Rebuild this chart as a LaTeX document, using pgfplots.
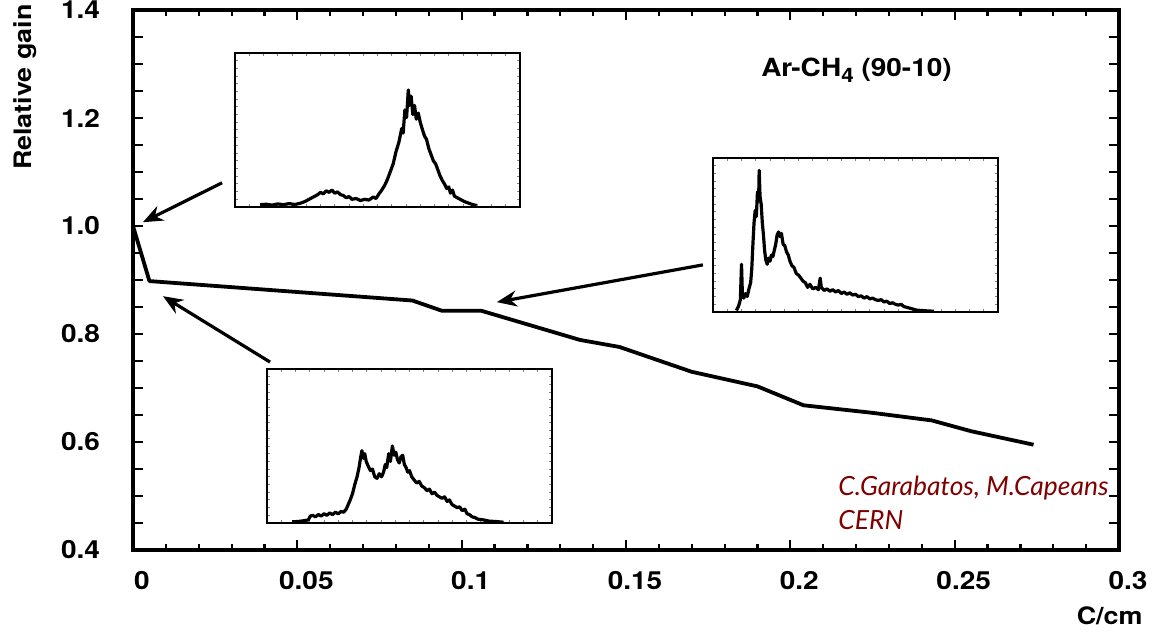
\documentclass[border=0pt]{standalone}
\usepackage{fontspec}
\setmainfont{TeX Gyre Heros}
\newfontfamily\widefont[FakeStretch=1.12]{TeX Gyre Heros}
\newfontfamily\creditfont{Lato}
\usepackage{pgfplots}
\pgfplotsset{compat=1.18}
\usetikzlibrary{arrows.meta}
\definecolor{creditred}{RGB}{128,0,0}

\pgfplotsset{
  spectrum/.style={
    scale only axis, width=142.5pt, height=77pt,
    xmin=0, xmax=100, ymin=0, ymax=100,
    axis line style={line width=0.8pt},
    xtick={0,5,...,100}, ytick={0,5,...,100},
    xticklabels={}, yticklabels={},
    major tick length=1.6pt, tick style={line width=0.5pt},
    axis background/.style={fill=white},
  },
  spec/.style={black, line width=1.6pt, line join=round},
}

\begin{document}
\begin{tikzpicture}
\path[use as bounding box] (-66.5pt,-41pt) rectangle (510.5pt,275pt);

% relative gain versus C along the wire
\begin{axis}[
  at={(0,0)}, anchor=south west,
  scale only axis, width=493pt, height=270pt,
  xmin=0, xmax=0.3, ymin=0.4, ymax=1.4,
  scaled x ticks=false,
  xtick={0,0.05,...,0.3}, xticklabels={0,0.05,0.1,0.15,0.2,0.25,0.3},
  ytick={0.4,0.6,...,1.4}, yticklabels={0.4,0.6,0.8,1.0,1.2,1.4},
  minor x tick num=4, minor y tick num=3,
  axis line style={line width=1.7pt},
  tick style={line width=1.1pt, black},
  major tick length=5pt, minor tick length=2.8pt,
  minor y tick style={/pgfplots/minor tick length=5pt},
  tick label style={font=\widefont\bfseries\fontsize{12.5}{14}\selectfont},
  /pgf/number format/assume math mode=true,
  xticklabel style={yshift=-7pt, xshift=4.5pt},
  yticklabel style={xshift=-13pt},
  xlabel={C/cm}, ylabel={Relative gain},
  label style={font=\widefont\bfseries\fontsize{12}{14}\selectfont},
  xlabel style={at={(axis description cs:1.031,-0.122)}, anchor=east},
  ylabel style={at={(axis description cs:-0.1095,0.857)}, anchor=center},
  clip=false,
]
\addplot[black, line width=1.9pt, line join=round] coordinates {
  (0,1.0) (0.005,0.898) (0.085,0.862) (0.094,0.843) (0.106,0.843)
  (0.136,0.789) (0.148,0.776) (0.17,0.73) (0.19,0.703) (0.204,0.668)
  (0.225,0.654) (0.243,0.64) (0.255,0.62) (0.274,0.595)
};
\node[anchor=west, font=\widefont\bfseries\fontsize{12.5}{14}\selectfont]
  at (axis cs:0.189,1.289) {Ar-CH\raisebox{-3pt}{\fontsize{10}{12}\selectfont 4} (90-10)};
\node[anchor=north west, align=left, text=creditred, inner sep=0pt,
      font=\creditfont\itshape\fontsize{13.2}{17}\selectfont]
  at (axis cs:0.2145,0.537) {C.Garabatos, M.Capeans\\CERN};
\draw[line width=1.6pt, -{Stealth[length=10pt,width=8pt]}]
  (axis cs:0.0271,1.080) -- (axis cs:0.003,1.007);
\draw[line width=1.6pt, -{Stealth[length=10pt,width=8pt]}]
  (axis cs:0.0417,0.748) -- (axis cs:0.0091,0.870);
\draw[line width=1.6pt, -{Stealth[length=10pt,width=8pt]}]
  (axis cs:0.1734,0.928) -- (axis cs:0.1107,0.859);
\end{axis}

% pulse-height spectrum near the start
\begin{axis}[spectrum, at={(51pt,171.5pt)}, anchor=south west]
\addplot[spec] coordinates {
(8.8,1.5)(11,1.8)(13,1.2)(15,2)(17,1.5)(19,2.2)(21,1.6)(23,2.5)(24.5,3.5)(26,5)
(27.5,6.5)(29,8)(30,9.5)(31,8.5)(32,10.5)(33,9.5)(34,11)(35,9)(36,9.8)(37,8)
(38,7.5)(39,6)(40,6.8)(41,5)(42.5,5.5)(44,4.2)(45.5,5)(47,4.5)(48.5,6.5)(49.5,5.5)
(50.5,8.5)(51.5,11)(52.5,14)(53.5,18)(54.5,23)(55.5,28)(56.5,36)(57.5,42)(58.5,51)
(59,48)(59.6,63)(60.2,58)(60.8,76)(61.3,66)(61.8,72)(62.4,60)(63,66)(63.6,57)
(64.3,61)(65,55)(65.8,50)(66.5,46)(67.2,44)(68,38)(68.8,34)(69.6,30)(70.4,28)
(71.2,24)(72,20)(72.8,17)(73.5,15)(74.3,12)(75,13)(75.6,9)(76.3,11)(77,7)(78,6)
(79,5)(80.5,3.5)(82,2.5)(83.5,1.5)(84.8,1)
};
\end{axis}

% spectrum around C = 0.1
\begin{axis}[spectrum, at={(290pt,119pt)}, anchor=south west]
\addplot[spec] coordinates {
(8.2,1)(9,4)(9.6,8)(10,31)(10.3,12)(10.8,9)(11.4,12)(12,10)(12.6,15)(13.2,19)
(13.6,28)(14,44)(14.4,58)(14.8,66)(15.2,62)(15.6,78)(16,72)(16.2,92)(16.5,75)
(16.9,70)(17.3,58)(17.7,50)(18.1,40)(18.5,34)(19,31)(19.5,35)(20,33)(20.5,37)
(21,36)(21.5,40)(22,44)(22.5,50)(23,52)(23.5,49)(24,51)(24.6,44)(25.2,43)(25.8,39)
(26.4,37)(27,33)(27.7,30)(28.4,29)(29.2,25)(30,24)(30.8,22)(31.6,20)(32.4,19)
(33.2,16)(34,18)(35,15)(36,16)(37,14.5)(37.6,22)(38,16)(39,14)(40,15)(41,13.5)
(42,14.5)(43,13)(44,14)(45,12)(46,13)(47,11.5)(48,12.5)(49,11)(50,11.5)(51,10)
(52,10.5)(53,9)(54,10)(55,8.5)(56,9)(57,8)(58,7.5)(59,8)(60,6.5)(61,7)(62,5.5)
(63,6)(64,5)(65,4.5)(66,5)(67,3.5)(68,3)(69,2.5)(70,2)(71.5,1.2)(73,1)(75,0.7)
(77.6,0.5)
};
\end{axis}

% spectrum just after the first drop
\begin{axis}[spectrum, at={(67pt,13.5pt)}, anchor=south west]
\addplot[spec] coordinates {
(8.8,0.8)(11,1)(13,1.5)(14.5,2)(15.2,4.5)(16,5)(17,4)(18,5.5)(19,4.5)(20,6)
(21,5)(22,6.5)(23,5.5)(24,7)(25,6)(26,7.5)(26.9,7)(27.8,9)(28.5,12)(29.2,15)
(30,19)(30.8,25)(31.6,30)(32.3,36)(32.8,42)(33.3,47)(33.8,42)(34.3,45)(34.8,40)
(35.5,37)(36.3,34)(37,35)(37.8,30)(38.6,29)(39.4,32)(40.2,30)(40.9,33)(41.5,38)
(42,36)(42.7,45)(43.3,40)(44,50)(44.6,44)(45.2,46)(45.8,41)(46.4,39)(47,43)
(47.6,44)(48.2,38)(48.8,36)(49.4,33)(50,34)(50.8,30)(51.6,28)(52.5,26)(53.4,27)
(54.3,24)(55.2,23)(56.1,21)(57,22)(57.9,19)(58.8,20)(59.6,18)(60.5,17)(61.4,16)
(62.3,17)(63.2,14)(64,15)(64.9,12)(65.8,11)(66.7,10)(67.6,10.5)(68.5,8)(69.4,9)
(70.2,6)(71,5.5)(72,4)(73,3.5)(74,2.5)(76,2)(78,1.2)(80,1)(83,0.5)
};
\end{axis}
\end{tikzpicture}
\end{document}
